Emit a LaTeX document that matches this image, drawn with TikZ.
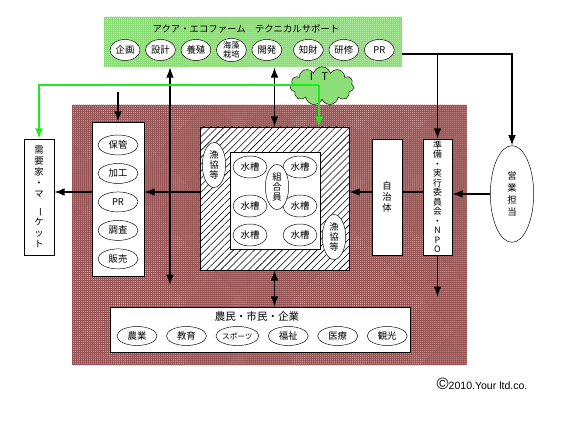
\documentclass[tikz,border=0pt]{standalone}
\usepackage{fontspec}
\setmainfont{Noto Sans CJK JP}
\newfontfamily\latinfont{Liberation Sans}
\usetikzlibrary{arrows.meta,positioning,shapes.geometric,shapes.symbols,patterns.meta}
\definecolor{aquagreen}{RGB}{140,222,118}
\definecolor{aquadots}{RGB}{185,240,170}
\definecolor{itgreen}{RGB}{30,235,30}
\definecolor{farmbrown}{RGB}{150,82,82}
\definecolor{farmdots}{RGB}{218,170,170}

\begin{document}
\begin{tikzpicture}[x=0.3mm, y=-0.3mm, >=Latex, node distance=1.5mm,
  font=\fontsize{8}{9}\selectfont,
  line/.style={line width=1.3pt},
  box/.style={draw, fill=white, inner sep=0pt, align=center},
  bub/.style={draw, ellipse, fill=white, inner sep=0pt, align=center,
              minimum width=9mm, minimum height=6.3mm},
  pbub/.style={bub, minimum width=12mm, minimum height=6mm},
  tank/.style={bub, minimum width=10.2mm, minimum height=6.6mm},
  tall/.style={bub, minimum width=7mm, minimum height=13.5mm,
               font=\fontsize{8}{8.6}\selectfont},
  vtext/.style={font=\fontsize{8}{9.2}\selectfont}]
\useasboundingbox (0,0) rectangle (580,421);

% brown field
\fill[farmbrown] (72,105) rectangle (467,365);
\fill[pattern={Dots[distance=1.7pt, radius=0.45pt]}, pattern color=farmdots]
  (72,105) rectangle (467,365);

% technical support bar
\node[inner sep=0pt, minimum width=89.4mm, minimum height=15mm,
      fill=aquagreen] (tech) at (253,42) {};
\fill[pattern={Dots[distance=1.7pt, radius=0.4pt]}, pattern color=aquadots]
  (tech.south west) rectangle (tech.north east);
\node (techtitle) at (246,29) {アクア・エコファーム　テクニカルサポート};
\node[bub] (plan) at (125,50) {企画};
\node[bub, right=of plan] (design) {設計};
\node[bub, right=of design] (farm) {養殖};
\node[bub, right=of farm, font=\fontsize{7}{7.5}\selectfont] (algae) {海藻\\栽培};
\node[bub, right=of algae] (devel) {開発};
\node[bub, right=3.3mm of devel] (ip) {知財};
\node[bub, right=of ip] (train) {研修};
\node[bub, right=of train] (pr) {PR};

% IT cloud
\node[cloud, cloud puffs=11, draw, fill=aquagreen, aspect=1.7,
      minimum width=19mm, minimum height=11.5mm, inner sep=0pt] (it) at (322,86) {};
\node[font=\fontsize{9}{10}\selectfont] (itlabel) at (319,77) {I\hspace{2.6mm}T};

% needs / market
\node[box, minimum width=9mm, minimum height=34.8mm, vtext] (needs) at (39,197)
  {需\\要\\家\\・\\マ\\\rotatebox{-90}{ー}\\ケ\\ッ\\ト};

% products column
\node[box, minimum width=15.6mm, minimum height=46.2mm] (store) at (118,199) {};
\node[pbub] (keep) at (118,145) {保管};
\node[pbub, below=2.4mm of keep] (proc) {加工};
\node[pbub, below=2.4mm of proc] (prb) {PR};
\node[pbub, below=2.4mm of prb] (survey) {調査};
\node[pbub, below=2.4mm of survey] (sell) {販売};

% hatched farm block
\node[box, minimum width=44.7mm, minimum height=42.9mm] (hatch) at (274.5,198.5) {};
\fill[pattern={Lines[angle=45, distance=4.2pt, line width=0.5pt]}]
  (hatch.south west) rectangle (hatch.north east);
\node[box, minimum width=27mm, minimum height=29.1mm] (inner) at (275,200.5) {};
\node[tank] (t1) at (250,167) {水槽};
\node[tank] (t2) at (300,167) {水槽};
\node[tank] (t3) at (250,206) {水槽};
\node[tank] (t4) at (300,206) {水槽};
\node[tank] (t5) at (250,235) {水槽};
\node[tank] (t6) at (300,235) {水槽};
\node[tall] (member) at (277,187) {組\\合\\員};
\node[tall] (coopl) at (214,165) {漁\\協\\等};
\node[tall] (coopr) at (334,237) {漁\\協\\等};

% local government, committee, sales
\node[box, minimum width=9mm, minimum height=34.8mm, vtext] (jichi) at (387,197) {自\\治\\体};
\node[box, minimum width=8.7mm, minimum height=34.8mm,
      font=\fontsize{7.5}{8.1}\selectfont] (npo) at (437.5,197)
  {準\\備\\・\\実\\行\\委\\員\\会\\・\\N\\P\\O};
\node[draw, ellipse, fill=white, minimum width=13mm, minimum height=29mm,
      inner sep=0pt, align=center, font=\fontsize{8}{10}\selectfont] (sales) at (512,194)
  {営\\業\\担\\当};

% citizens bar
\node[box, minimum width=90mm, minimum height=13.5mm] (folk) at (260,329.5) {};
\node[font=\fontsize{9}{10}\selectfont] (folktitle) at (257,316) {農民・市民・企業};
\node[pbub, minimum height=5.7mm] (agri) at (137,336) {農業};
\node[pbub, minimum height=5.7mm, right=2.7mm of agri] (edu) {教育};
\node[pbub, minimum height=5.7mm, right=2.7mm of edu,
      font=\fontsize{6.5}{7}\selectfont] (sport) {スポーツ};
\node[pbub, minimum height=5.7mm, right=2.7mm of sport] (welfare) {福祉};
\node[pbub, minimum height=5.7mm, right=2.7mm of welfare] (medic) {医療};
\node[pbub, minimum height=5.7mm, right=2.7mm of medic] (tour) {観光};

\node[font=\latinfont\fontsize{9}{10}\selectfont] (copy) at (482,384)
  {{\fontsize{14}{14}\selectfont ©}2010.Your ltd.co.};

% connectors
\coordinate (row) at (0,192);
\coordinate (feedrow) at (0,54);
\coordinate (topfeed) at (118,92);
\coordinate (longend) at (170,285);
\coordinate (npoend) at (437.5,297);
\coordinate (itjoin) at (319,85);
\draw[line, ->] (topfeed) -- (store.north);
\draw[line, <->] (tech.south -| longend) -- (longend);
\draw[line, <->] (tech.south -| hatch.north) -- (hatch.north);
\draw[line, <->] (hatch.south) -- (folk.north -| hatch.south);
\draw[line, ->] (hatch.west |- row) -- (store.east |- row);
\draw[line, ->] (store.west |- row) -- (needs.east |- row);
\draw[line, ->] (jichi.west |- row) -- (hatch.east |- row);
\draw[line] (npo.west |- row) -- (jichi.east |- row);
\draw[line, ->] (sales.west) -- (npo.east |- sales.west);
\draw[line, ->] (tech.east |- feedrow) -| (sales.north);
\draw[line, ->] (npo.north |- feedrow) -- (npo.north);
\draw[line, ->] (npo.south) -- (npoend);
\draw[line, itgreen, ->] (itjoin) -| (needs.north);
\draw[line, itgreen, ->] (itjoin) -- (hatch.north -| itjoin);
\end{tikzpicture}
\end{document}
